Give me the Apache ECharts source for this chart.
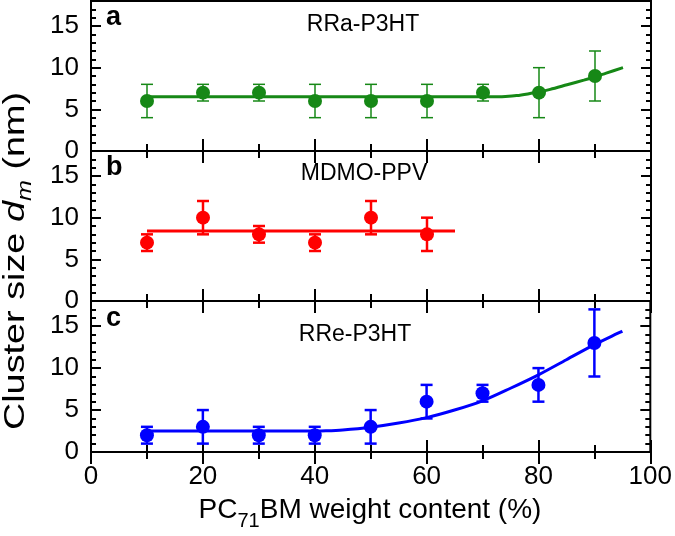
<!DOCTYPE html>
<html>
<head>
<meta charset="utf-8">
<script src="https://cdn.jsdelivr.net/npm/echarts@6/dist/echarts.min.js"></script>
<style>
html,body{margin:0;padding:0;background:#fff;}
#c{width:675px;height:536px;}
</style>
</head>
<body>
<div id="c"></div>
<script>
// ---- data ----
const xTicks = [0, 20, 40, 60, 80, 100];
const yTicks = [0, 5, 10, 15];

// panel a: RRa-P3HT
const aX  = [10, 20, 30, 40, 50, 60, 70, 80, 90];
const aY  = [6, 7, 7, 6, 6, 6, 7, 7, 9];
const aLo = [4, 6, 6, 4, 4, 4, 6, 4, 6];
const aHi = [8, 8, 8, 8, 8, 8, 8, 10, 12];
const aFitX = [10, 72, 74, 76, 78, 80, 82, 85, 88, 90, 92, 95];
const aFitY = [6.5, 6.5, 6.55, 6.65, 6.85, 7.1, 7.4, 7.95, 8.5, 8.9, 9.35, 10.0];

// panel b: MDMO-PPV
const bX  = [10, 20, 30, 40, 50, 60];
const bY  = [7, 10, 8, 7, 10, 8];
const bLo = [6, 8, 7, 6, 8, 6];
const bHi = [8, 12, 9, 8, 12, 10];
const bFitX = [10, 65];
const bFitY = [8.4, 8.4];

// panel c: RRe-P3HT
const cX  = [10, 20, 30, 40, 50, 60, 70, 80, 90];
const cY  = [2, 3, 2, 2, 3, 6, 7, 8, 13];
const cLo = [1, 1, 1, 1, 1, 4, 6, 6, 9];
const cHi = [3, 5, 3, 3, 5, 8, 8, 10, 17];
const cFitX = [10, 40, 42, 45, 50, 55, 60, 65, 70, 75, 80, 85, 90, 95];
const cFitY = [2.5, 2.5, 2.52, 2.62, 2.95, 3.45, 4.1, 5.0, 6.1, 7.6, 9.2, 11.0, 12.8, 14.4];

const panelNames = ['RRa-P3HT', 'MDMO-PPV', 'RRe-P3HT'];
const panelLetters = ['a', 'b', 'c'];

// ---- build ----
const FONT = '"Liberation Sans", Arial, Helvetica, sans-serif';
const GREEN = '#168816', RED = '#ff0000', BLUE = '#0000ff';

const grids = [
  {left: 91, right: 24, top: 1, height: 150},
  {left: 91, right: 24, top: 151, height: 150},
  {left: 91, right: 24, top: 301, height: 151}
].map(g => Object.assign(g, {show: true, borderColor: '#000', borderWidth: 2, backgroundColor: 'transparent', containLabel: false}));

const xAxes = [], yAxes = [];
for (let i = 0; i < 3; i++) {
  ['bottom', 'top'].forEach(pos => {
    xAxes.push({
      type: 'value', gridIndex: i, position: pos, min: 0, max: 100, interval: 20,
      axisLine: {show: false},
      axisTick: {show: true, inside: true, length: 12, lineStyle: {color: '#000', width: 2}},
      minorTick: {show: true, splitNumber: 2, length: 7, lineStyle: {color: '#000', width: 2}},
      axisLabel: {show: (i === 2 && pos === 'bottom'), color: '#000', fontSize: 26, fontFamily: FONT, margin: 12},
      splitLine: {show: false}, minorSplitLine: {show: false}
    });
  });
  ['left', 'right'].forEach(pos => {
    // major ticks
    yAxes.push({
      type: 'value', gridIndex: i, position: pos, min: 0, max: 18, interval: 5,
      axisLine: {show: false},
      axisTick: {show: true, inside: true, length: 10, lineStyle: {color: '#000', width: 2}},
      axisLabel: {show: pos === 'left', color: '#000', fontSize: 26, fontFamily: FONT, margin: 12,
        formatter: v => (yTicks.indexOf(v) >= 0 ? String(v) : '')},
      splitLine: {show: false}
    });
    // minor ticks
    yAxes.push({
      type: 'value', gridIndex: i, position: pos, min: 0, max: 18, interval: 1,
      axisLine: {show: false},
      axisTick: {show: true, inside: true, length: 5, lineStyle: {color: '#000', width: 2}},
      axisLabel: {show: false},
      splitLine: {show: false}
    });
  });
}

function zip(xs, ys) { return xs.map((x, k) => [x, ys[k]]); }
function zip3(xs, lo, hi) { return xs.map((x, k) => [x, lo[k], hi[k]]); }

function errSeries(i, data, color, lw) {
  return {
    type: 'custom', xAxisIndex: 2 * i, yAxisIndex: 4 * i, data: data, z: 3,
    renderItem: function (params, api) {
      const x = api.value(0), lo = api.value(1), hi = api.value(2);
      const p1 = api.coord([x, lo]), p2 = api.coord([x, hi]);
      const w = 6;
      const st = {stroke: color, lineWidth: lw};
      return {type: 'group', children: [
        {type: 'line', shape: {x1: p1[0], y1: p1[1], x2: p2[0], y2: p2[1]}, style: st},
        {type: 'line', shape: {x1: p1[0] - w, y1: p1[1], x2: p1[0] + w, y2: p1[1]}, style: st},
        {type: 'line', shape: {x1: p2[0] - w, y1: p2[1], x2: p2[0] + w, y2: p2[1]}, style: st}
      ]};
    }
  };
}
function scatterSeries(i, data, color) {
  return {type: 'scatter', xAxisIndex: 2 * i, yAxisIndex: 4 * i, data: data, symbol: 'circle', symbolSize: 14,
    itemStyle: {color: color, opacity: 1}, z: 5, silent: true};
}
function fitSeries(i, data, color) {
  return {type: 'line', xAxisIndex: 2 * i, yAxisIndex: 4 * i, data: data, showSymbol: false, symbol: 'none',
    smooth: 0.3, lineStyle: {color: color, width: 3}, z: 4, silent: true};
}

const series = [
  fitSeries(0, zip(aFitX, aFitY), GREEN),
  errSeries(0, zip3(aX, aLo, aHi), GREEN, 1.5),
  scatterSeries(0, zip(aX, aY), GREEN),
  fitSeries(1, zip(bFitX, bFitY), RED),
  errSeries(1, zip3(bX, bLo, bHi), RED, 2.5),
  scatterSeries(1, zip(bX, bY), RED),
  fitSeries(2, zip(cFitX, cFitY), BLUE),
  errSeries(2, zip3(cX, cLo, cHi), BLUE, 2.5),
  scatterSeries(2, zip(cX, cY), BLUE)
];

const letterY = [18, 168, 319];
const nameX = [363, 364, 355];
const nameY = [25, 174, 335];
const graphics = [];
for (let i = 0; i < 3; i++) {
  graphics.push({type: 'text', x: 106, y: letterY[i], style: {text: panelLetters[i], fill: '#000',
    font: 'bold 27px ' + FONT, align: 'left', verticalAlign: 'middle'}});
  graphics.push({type: 'text', x: nameX[i], y: nameY[i], style: {text: panelNames[i], fill: '#000',
    font: '23px ' + FONT, align: 'center', verticalAlign: 'middle'}});
}
// x-axis title
graphics.push({type: 'text', x: 370, y: 510, style: {
  text: '{n|PC}{s|71}{n|BM weight content (%)}', align: 'center', verticalAlign: 'middle',
  rich: {
    n: {fontSize: 28, fontFamily: FONT, color: '#000', lineHeight: 42},
    s: {fontSize: 20, fontFamily: FONT, color: '#000', lineHeight: 20, verticalAlign: 'bottom'}
  }}});
// y-axis title (stretched along its length, as in the reference)
graphics.push({type: 'text', x: 16, y: 261, rotation: Math.PI / 2, scaleX: 1.26, scaleY: 1, style: {
  text: '{n|Cluster size }{i|d}{s|m}{n| (nm)}', align: 'center', verticalAlign: 'middle',
  rich: {
    n: {fontSize: 30, fontFamily: FONT, color: '#000', lineHeight: 39},
    i: {fontSize: 30, fontFamily: FONT, fontStyle: 'italic', color: '#000', lineHeight: 39},
    s: {fontSize: 20, fontFamily: FONT, fontStyle: 'italic', color: '#000', lineHeight: 20, verticalAlign: 'bottom'}
  }}});

const chart = echarts.init(document.getElementById('c'), null, {renderer: 'canvas'});
chart.setOption({
  animation: false,
  backgroundColor: '#fff',
  grid: grids,
  xAxis: xAxes,
  yAxis: yAxes,
  series: series,
  graphic: graphics
});
</script>
</body>
</html>
